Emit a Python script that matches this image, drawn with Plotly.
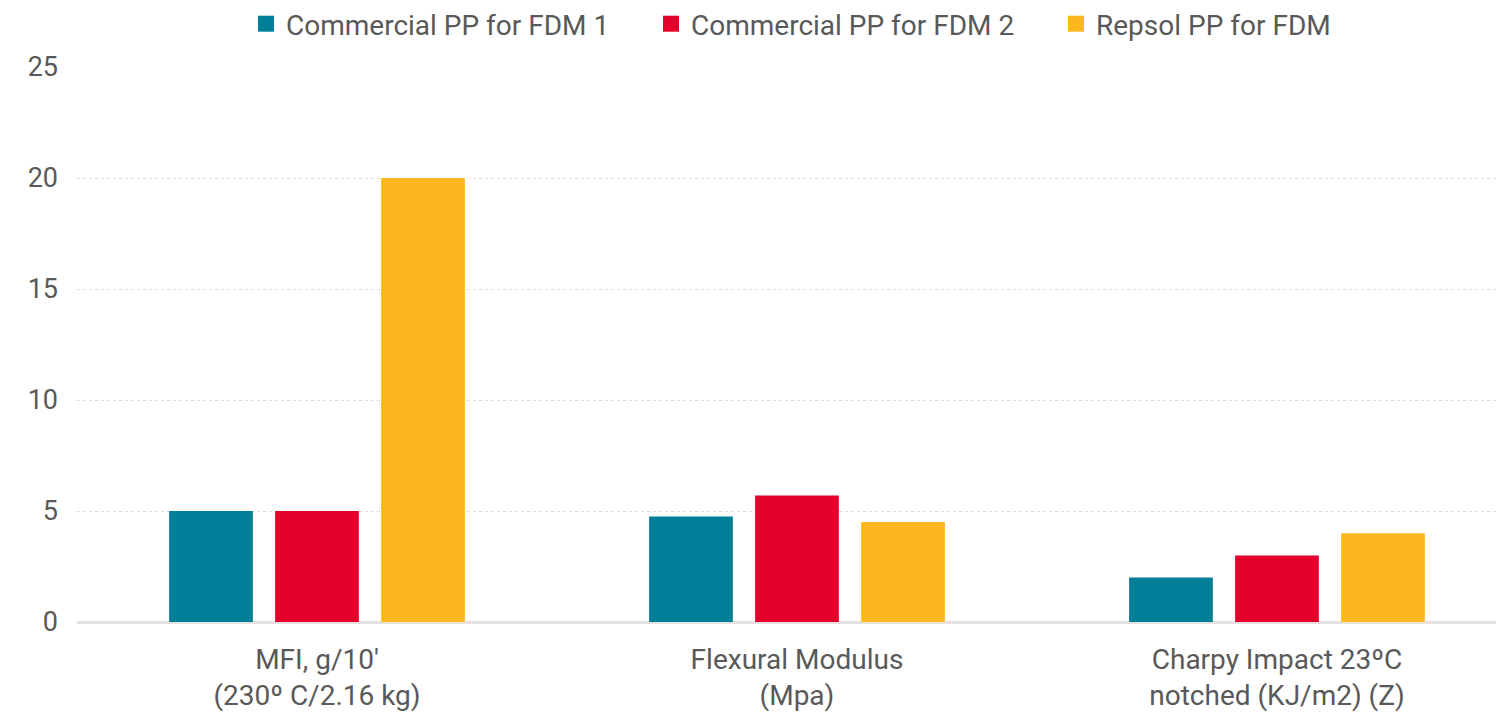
import plotly.graph_objects as go

categories = ["MFI, g/10'<br>(230º C/2.16 kg)", "Flexural Modulus<br>(Mpa)", "Charpy Impact 23ºC<br>notched (KJ/m2) (Z)"]
series_names = ["Commercial PP for FDM 1", "Commercial PP for FDM 2", "Repsol PP for FDM"]
pp1 = [5.0, 4.75, 2.0]
pp2 = [5.0, 5.7, 3.0]
repsol = [20.0, 4.5, 4.0]
colors = ["#007F99", "#E4002B", "#FDB71E"]
y_ticks = [0, 5, 10, 15, 20, 25]

FONT = "Roboto, sans-serif"
TXT = "#595959"
W, H = 1496, 708  # page body has an 8px margin

fig = go.Figure()
for name, vals, col in zip(series_names, [pp1, pp2, repsol], colors):
    fig.add_trace(go.Bar(x=[0, 1, 2], y=vals, name=name, marker=dict(color=col, line=dict(width=0)),
                         showlegend=False))
    fig.add_trace(go.Scatter(x=[None], y=[None], mode="markers", name=name,
                             marker=dict(symbol="square", size=18, color=col)))

fig.update_layout(
    width=W, height=H,
    paper_bgcolor="white", plot_bgcolor="white",
    margin=dict(l=69, r=0, t=59, b=94, autoexpand=False),
    barmode="group", bargap=0.3375, bargroupgap=0.21,
    font=dict(family=FONT, size=27, color=TXT),
    legend=dict(orientation="h", xref="container", yref="container", x=238/W, xanchor="left",
                y=1 - 16/H, yanchor="middle", entrywidth=360, font=dict(size=28, color=TXT)),
    xaxis=dict(tickmode="array", tickvals=[0, 1, 2], ticktext=categories, range=[-0.5, 2.473],
               showgrid=False, zeroline=False, showline=False, ticks="", ticklabelstandoff=18,
               automargin=False, tickfont=dict(size=28, color=TXT)),
    yaxis=dict(range=[0, 25], tickvals=y_ticks, showgrid=True, gridcolor="#DDDDDD", griddash="dot",
               gridwidth=1, zeroline=True, zerolinecolor="#E6E2DF", zerolinewidth=3, showline=False,
               ticks="", ticklabelstandoff=18, automargin=False, tickfont=dict(size=27, color=TXT)),
)
fig.write_html("out.html")
